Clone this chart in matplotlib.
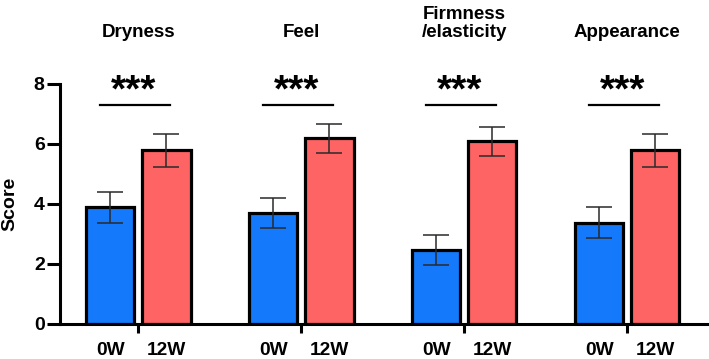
import matplotlib
matplotlib.use("Agg")
import matplotlib.pyplot as plt
import numpy as np

plt.rcParams['font.family'] = ['Liberation Sans', 'DejaVu Sans']
plt.rcParams['font.weight'] = 'bold'

categories = ["Dryness", "Feel", "Firmness\n/elasticity", "Appearance"]
timepoints = ["0W", "12W"]
score_0w = [3.88, 3.68, 2.47, 3.37]
err_0w = [0.52, 0.50, 0.50, 0.52]
score_12w = [5.78, 6.18, 6.08, 5.78]
err_12w = [0.55, 0.50, 0.50, 0.54]
significance = ["***", "***", "***", "***"]

blue = "#1479FA"
red = "#FF6464"

fig = plt.figure(figsize=(7.09, 3.59), dpi=100)
ax = fig.add_axes([60/709, (359-323.5)/359, (707-60)/709, (323.5-84)/359])

x = np.arange(len(categories))
off = 0.172
w = 0.298

ax.bar(x - off, score_0w, width=w, color=blue, edgecolor='black', linewidth=2.3, zorder=2)
ax.bar(x + off, score_12w, width=w, color=red, edgecolor='black', linewidth=2.3, zorder=2)
ax.errorbar(x - off, score_0w, yerr=err_0w, fmt='none', ecolor='#2a2a2a', elinewidth=1.1,
            capsize=9.3, capthick=1.1, zorder=3)
ax.errorbar(x + off, score_12w, yerr=err_12w, fmt='none', ecolor='#2a2a2a', elinewidth=1.1,
            capsize=9.3, capthick=1.1, zorder=3)

ax.set_xlim(-0.48, 3.49)
ax.set_ylim(0, 8)
ax.set_yticks([0, 2, 4, 6, 8])
ax.tick_params(axis='y', length=9.5, width=2.2, labelsize=14, pad=1.5)

# ticks between bars (no labels), labels under bars (minor ticks without marks)
ax.set_xticks(x)
ax.set_xticklabels([])
ax.tick_params(axis='x', which='major', length=6.5, width=2.2)
minor_pos = np.sort(np.concatenate([x - off, x + off]))
ax.set_xticks(minor_pos, minor=True)
ax.set_xticklabels([timepoints[i % 2] for i in range(len(minor_pos))], minor=True)
ax.tick_params(axis='x', which='minor', length=0, labelsize=13.8, pad=13.5)

for lab in ax.get_yticklabels() + ax.get_xticklabels(minor=True):
    lab.set_fontweight('bold')

fig.text(9.5/709, (359-204)/359, "Score", rotation=90, ha='center', va='center',
         fontsize=14, fontweight='bold')

for s in ['top', 'right']:
    ax.spines[s].set_visible(False)
ax.spines['left'].set_linewidth(2.2)
ax.spines['bottom'].set_linewidth(2.2)

for i, (cat, sig) in enumerate(zip(categories, significance)):
    ax.plot([i - 0.235, i + 0.195], [7.3, 7.3], color='black', lw=1.6, clip_on=False)
    ax.text(i - 0.03, 7.42, sig, ha='center', va='baseline', fontsize=28, fontweight='bold',
            clip_on=False)
    ax.text(i, 9.44, cat, ha='center', va='bottom', fontsize=13.5, fontweight='bold',
            multialignment='center', linespacing=1.1, clip_on=False)

fig.savefig("out.png", dpi=100)
